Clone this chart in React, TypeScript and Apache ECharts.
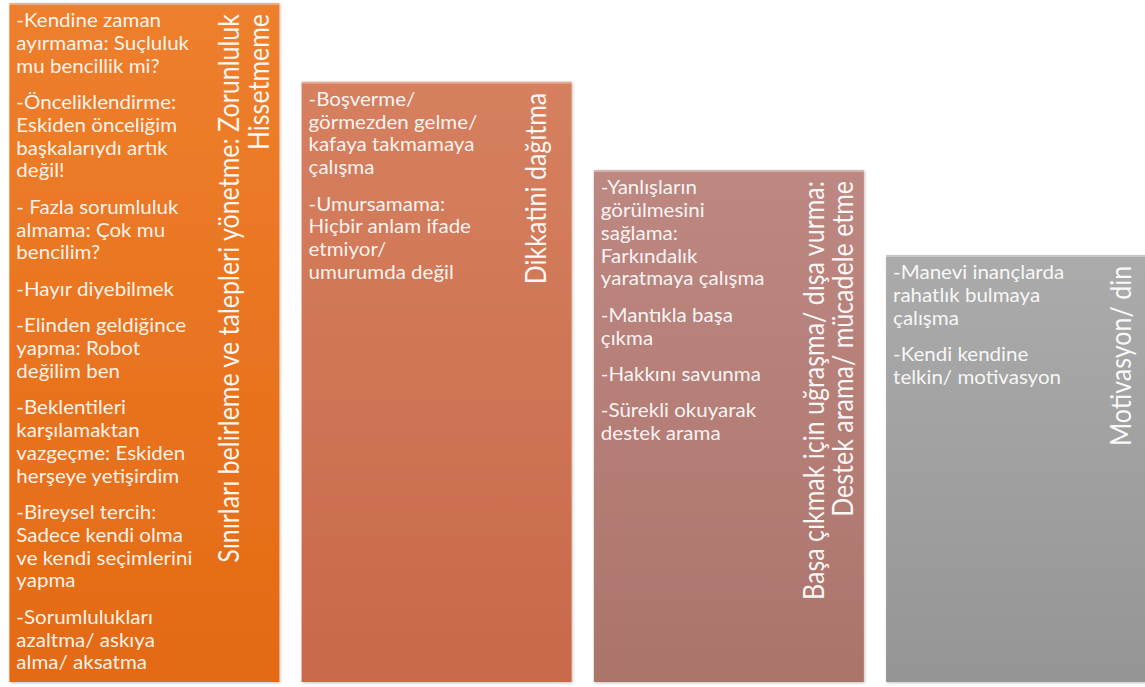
import React, { useEffect, useRef } from "react";
import * as echarts from "echarts";

const categories = ["Zorunluluk", "Dikkat", "Destek", "Motivasyon"];
const heights = [100, 88.4, 75.4, 62.9];
const titles = [
  "Sınırları belirleme ve talepleri yönetme: Zorunluluk\nHissetmeme",
  "Dikkatini dağıtma",
  "Başa çıkmak için uğraşma/ dışa vurma:\nDestek arama/ mücadele etme",
  "Motivasyon/ din",
];
const items: string[][][] = [
  [
    ["-Kendine zaman", "ayırmama: Suçluluk", "mu bencillik mi?"],
    ["-Önceliklendirme:", "Eskiden önceliğim", "başkalarıydı artık", "değil!"],
    ["- Fazla sorumluluk", "almama: Çok mu", "bencilim?"],
    ["-Hayır diyebilmek"],
    ["-Elinden geldiğince", "yapma: Robot", "değilim ben"],
    ["-Beklentileri", "karşılamaktan", "vazgeçme: Eskiden", "herşeye yetişirdim"],
    ["-Bireysel tercih:", "Sadece kendi olma", "ve kendi seçimlerini", "yapma"],
    ["-Sorumlulukları", "azaltma/ askıya", "alma/ aksatma"],
  ],
  [
    ["-Boşverme/", "görmezden gelme/", "kafaya takmamaya", "çalışma"],
    ["-Umursamama:", "Hiçbir anlam ifade", "etmiyor/", "umurumda değil"],
  ],
  [
    ["-Yanlışların", "görülmesini", "sağlama:", "Farkındalık", "yaratmaya çalışma"],
    ["-Mantıkla başa", "çıkma"],
    ["-Hakkını savunma"],
    ["-Sürekli okuyarak", "destek arama"],
  ],
  [
    ["-Manevi inançlarda", "rahatlık bulmaya", "çalışma"],
    ["-Kendi kendine", "telkin/ motivasyon"],
  ],
];
const gradients = [
  ["#EE7F2D", "#E46A14"],
  ["#D6805F", "#C8694B"],
  ["#BE8882", "#AB746B"],
  ["#ABABAB", "#959595"],
];

const FONT = 'Lato, "Open Sans", sans-serif';

export default function App() {
  const ref = useRef<HTMLDivElement>(null);
  useEffect(() => {
    if (!ref.current) return;
    const chart = echarts.init(ref.current, null, { renderer: "svg" });
    const LH = 22.8;
    const PG = 13.6;
    chart.setOption({
      animation: false,
      backgroundColor: "#FFFFFF",
      grid: { left: 0, right: 0, top: 3, bottom: 5 },
      xAxis: { type: "value", min: -0.494, max: 3.424, show: false },
      yAxis: { type: "value", min: 0, max: 100, show: false },
      series: [
        {
          type: "custom",
          name: categories.join(","),
          data: heights.map((h, i) => [i, h]),
          clip: false,
          renderItem: (params: any, api: any) => {
            const idx = api.value(0);
            const val = api.value(1);
            const topPt = api.coord([idx, val]);
            const basePt = api.coord([idx, 0]);
            const band = api.size([1, 0])[0];
            const w = band * 0.924;
            const left = topPt[0] - w / 2;
            const right = left + w;
            const top = topPt[1];
            const h = basePt[1] - top;
            const g = gradients[idx];
            const children: any[] = [
              {
                type: "rect",
                shape: { x: left, y: top, width: w, height: h },
                style: {
                  fill: new echarts.graphic.LinearGradient(0, 0, 0, 1, [
                    { offset: 0, color: g[0] },
                    { offset: 1, color: g[1] },
                  ]),
                  shadowBlur: 3,
                  shadowOffsetX: 1,
                  shadowOffsetY: 1,
                  shadowColor: "rgba(0,0,0,0.25)",
                },
              },
              {
                type: "rect",
                shape: { x: left, y: top, width: w, height: 2 },
                style: { fill: "rgba(255,255,255,0.35)" },
              },
            ];
            let y = top + 17;
            items[idx].forEach((para) => {
              para.forEach((line) => {
                children.push({
                  type: "text",
                  x: left + 7,
                  y,
                  scaleX: 1.11,
                  style: {
                    text: line,
                    font: `18.5px ${FONT}`,
                    fill: "rgba(255,255,255,0.93)",
                    align: "left",
                    verticalAlign: "middle",
                  },
                });
                y += LH;
              });
              y += PG;
            });
            children.push({
              type: "text",
              x: right - 36,
              y: top + 11,
              rotation: Math.PI / 2,
              scaleY: 1.12,
              style: {
                text: titles[idx],
                font: `25px ${FONT}`,
                lineHeight: 26,
                fill: "rgba(255,255,255,0.95)",
                align: "right",
                verticalAlign: "middle",
              },
            });
            return { type: "group", children };
          },
        },
      ],
    });
    return () => chart.dispose();
  }, []);
  return (
    <div
      ref={ref}
      style={{ position: "fixed", left: 0, top: 0, width: 1145, height: 687 }}
    />
  );
}
